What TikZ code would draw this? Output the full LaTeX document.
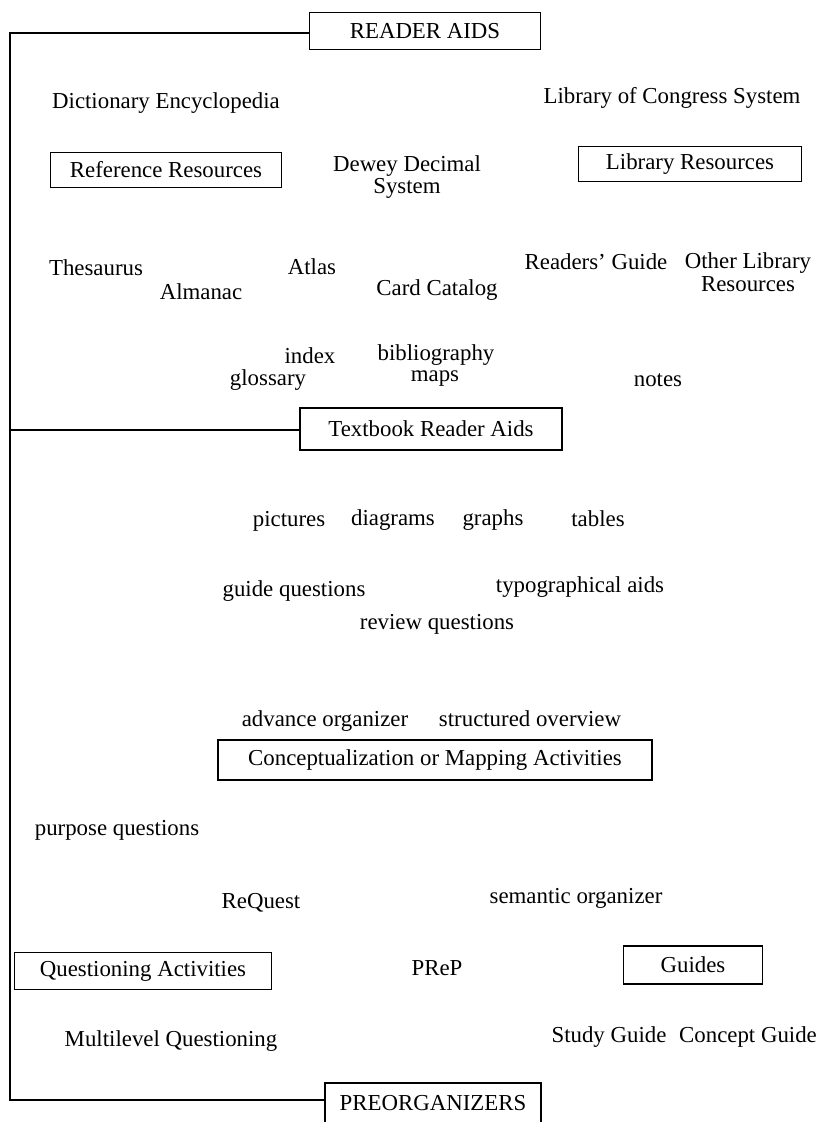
\documentclass[tikz,border=0pt]{standalone}
\usepackage{fontspec}
\setmainfont{Liberation Serif}
\tikzset{>=stealth}
\tikzset{box/.style={draw, line width=1.1pt, inner sep=0pt, font=\fontsize{13}{13}\selectfont},
  lbl/.style={inner sep=0pt, align=center, font=\fontsize{13}{13}\selectfont}}

\begin{document}
\begin{tikzpicture}[x=0.02cm, y=-0.02cm]
\useasboundingbox (0,0) rectangle (832,1122);
\clip (0,0) rectangle (832,1122);
% headings
\node[box, minimum width=4.62cm, minimum height=0.74cm] (ra) at (425,31) {READER AIDS};
\node[box, minimum width=5.24cm, minimum height=0.84cm] (tra) at (431,429) {Textbook Reader Aids};
\node[box, minimum width=4.32cm, minimum height=0.80cm] (po) at (433,1103) {PREORGANIZERS};
% reference and library resources
\node[lbl] (dict) at (166,103) {Dictionary Encyclopedia};
\node[lbl] (loc) at (672,98) {Library of Congress System};
\node[lbl] (dewey) at (407,177) {Dewey Decimal\\System};
\node[box, minimum width=4.62cm, minimum height=0.70cm] (refres) at (166,170) {Reference Resources};
\node[box, minimum width=4.46cm, minimum height=0.70cm] (libres) at (690,164) {Library Resources};
\node[lbl] (thes) at (96,268) {Thesaurus};
\node[lbl] (alm) at (201,292) {Almanac};
\node[lbl] (atlas) at (312,267) {Atlas};
\node[lbl] (card) at (437,290) {Card Catalog};
\node[lbl] (rguide) at (596,262) {Readers' Guide};
\node[lbl] (olib) at (748,272) {Other Library\\Resources};
\node[lbl] (index) at (310,356) {index};
\node[lbl] (bib) at (436,355) {bibliography};
\node[lbl] (gloss) at (268,380) {glossary};
\node[lbl] (maps) at (435,379) {maps};
\node[lbl] (notes) at (658,380) {notes};
% textbook aids
\node[lbl] (pict) at (289,521) {pictures};
\node[lbl] (diag) at (393,520) {diagrams};
\node[lbl] (graphs) at (493,520) {graphs};
\node[lbl] (tables) at (598,519) {tables};
\node[lbl] (guideq) at (294,591) {guide questions};
\node[lbl] (typo) at (580,587) {typographical aids};
\node[lbl] (review) at (437,624) {review questions};
\node[lbl] (advorg) at (325,721) {advance organizer};
\node[lbl] (structov) at (530,719) {structured overview};
% preorganizer activities
\node[box, minimum width=8.68cm, minimum height=0.80cm] (cma) at (435,760) {Conceptualization or Mapping Activities};
\node[lbl] (purpose) at (117,830) {purpose questions};
\node[lbl] (request) at (261,903) {ReQuest};
\node[lbl] (semorg) at (576,898) {semantic organizer};
\node[box, minimum width=5.14cm, minimum height=0.74cm] (qa) at (143,971) {Questioning Activities};
\node[lbl] (prep) at (437,968) {PReP};
\node[box, minimum width=2.78cm, minimum height=0.76cm] (guides) at (693,965) {Guides};
\node[lbl] (mlq) at (171,1041) {Multilevel Questioning};
\node[lbl] (study) at (609,1037) {Study Guide};
\node[lbl] (concept) at (748,1037) {Concept Guide};
% bracket on the left
\coordinate (c1) at (10,33);
\coordinate (c2) at (10,430);
\coordinate (c3) at (10,1100);
\draw[line width=1.1pt] (ra.west |- c1) -- (c1) -- (c3) -- (po.west |- c3);
\draw[line width=1.1pt] (c2) -- (tra.west |- c2);
\end{tikzpicture}
\end{document}
